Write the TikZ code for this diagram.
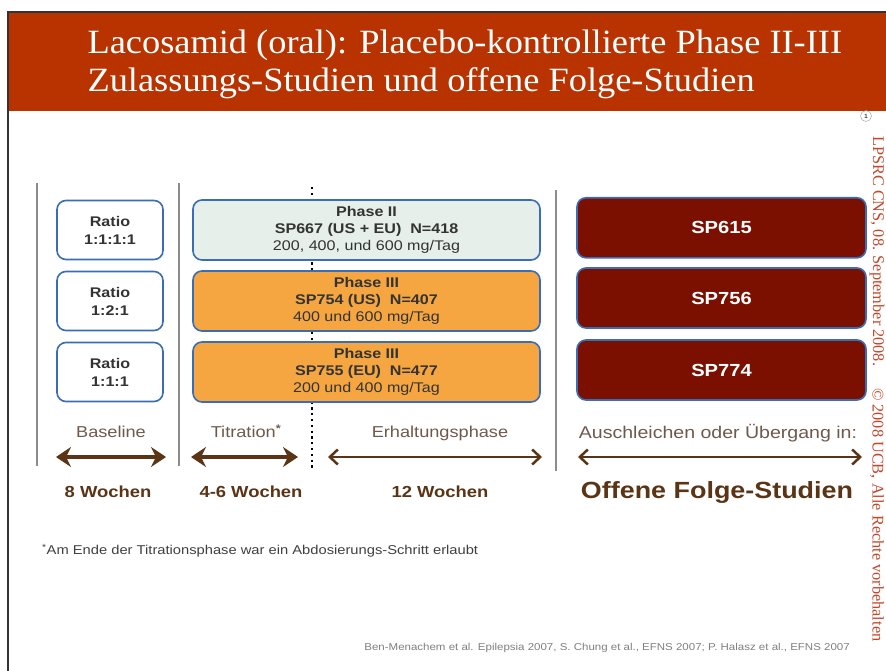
\documentclass[tikz,border=0pt]{standalone}
\usepackage{fontspec}
\setmainfont{Liberation Sans}[FakeStretch=1.15]
\newfontfamily\titlefont{Liberation Serif}[FakeStretch=1.07]
\newfontfamily\copyfont{Liberation Serif}
\usetikzlibrary{arrows.meta}
\definecolor{titlered}{HTML}{B83300}
\definecolor{boxblue}{HTML}{3A6DB5}
\definecolor{lightfill}{HTML}{E6EFEA}
\definecolor{orangefill}{HTML}{F5A640}
\definecolor{darkred}{HTML}{7C1000}
\definecolor{brown}{HTML}{5A3414}
\definecolor{labelgray}{HTML}{6E5A4C}
\definecolor{copyred}{HTML}{C8452A}
\begin{document}
\begin{tikzpicture}[x=1pt,y=-1pt,
  ratiobox/.style={draw=boxblue,line width=1.6pt,rounded corners=9pt,fill=white,minimum width=106pt,minimum height=59pt,align=center,font=\fontsize{14}{18}\selectfont\bfseries,text=black!80},
  phasebox/.style={draw=boxblue,line width=1.6pt,rounded corners=9pt,minimum width=347pt,minimum height=60pt,align=center,inner sep=0pt,font=\fontsize{14}{17}\selectfont,text=black!80},
  openbox/.style={draw=boxblue,line width=1.6pt,rounded corners=9pt,fill=darkred,minimum width=289pt,minimum height=60pt,text=white,font=\fontsize{17.5}{20}\selectfont\bfseries},
  seplbl/.style={font=\fontsize{15.8}{18}\selectfont,text=labelgray},
  wochen/.style={font=\fontsize{16}{18}\selectfont\bfseries,text=brown},
  sepline/.style={draw=black!45,line width=2pt},
  copytext/.style={rotate=-90,anchor=west,font=\copyfont\fontsize{16.3}{18}\selectfont,text=copyred,inner sep=0pt},
  thickarrow/.style={draw=brown,line width=3.2pt,{Stealth[width=20pt,length=15pt,inset=5pt]}-{Stealth[width=20pt,length=15pt,inset=5pt]}},
  thinarrow/.style={draw=brown,line width=2.5pt,{Straight Barb[width=15pt,length=8pt]}-{Straight Barb[width=15pt,length=8pt]}}
]
\useasboundingbox (0,0) rectangle (886,671);
\fill[white] (0,0) rectangle (886,671);
% frame and title bar
\fill[titlered] (8,12) rectangle (886,111);
\draw[black!80,line width=1.5pt] (8,671) -- (8,12) -- (886,12);
\node[anchor=west,text=white,font=\titlefont\fontsize{34}{38}\selectfont,align=left] (title) at (84,64)
  {Lacosamid (oral): Placebo-kontrollierte Phase II-III\\Zulassungs-Studien und offene Folge-Studien};
\node[circle,draw=black!40,fill=white,inner sep=0pt,minimum size=11pt,font=\fontsize{6}{6}\selectfont] (pg) at (866,116) {1};
% separators
\coordinate (s1a) at (37,183); \coordinate (s1b) at (37,466);
\coordinate (s2a) at (179,183); \coordinate (s2b) at (179,466);
\coordinate (s3a) at (556,190); \coordinate (s3b) at (556,471);
\draw[sepline] (s1a) -- (s1b);
\draw[sepline] (s2a) -- (s2b);
\draw[sepline] (s3a) -- (s3b);
\coordinate (dota) at (312,187); \coordinate (dotb) at (312,470);
\draw[black,line width=2.4pt,dash pattern=on 2.2pt off 3.6pt] (dota) -- (dotb);
% ratio boxes
\node[ratiobox] (r1) at (110,230) {Ratio\\1:1:1:1};
\node[ratiobox] (r2) at (110,301) {Ratio\\1:2:1};
\node[ratiobox] (r3) at (110,372) {Ratio\\1:1:1};
% phase boxes
\node[phasebox,fill=lightfill] (p1) at (366.5,230) {{\bfseries Phase II}\\{\bfseries SP667 (US + EU)\ \ N=418}\\200, 400, und 600 mg/Tag};
\node[phasebox,fill=orangefill] (p2) at (366.5,301) {{\bfseries Phase III}\\{\bfseries SP754 (US)\ \ N=407}\\400 und 600 mg/Tag};
\node[phasebox,fill=orangefill] (p3) at (366.5,372) {{\bfseries Phase III}\\{\bfseries SP755 (EU)\ \ N=477}\\200 und 400 mg/Tag};
% open label boxes
\node[openbox,anchor=north] (o1) at (721.5,197) {SP615};
\node[openbox] (o2) at (721.5,298) {SP756};
\node[openbox] (o3) at (721.5,370) {SP774};
% labels
\node[seplbl] (lb) at (111,432) {Baseline};
\node[seplbl] (lt) at (246,431) {Titration\textsuperscript{\bfseries *}};
\node[seplbl] (le) at (440,433) {Erhaltungsphase};
\node[seplbl,font=\fontsize{17}{19}\selectfont] (la) at (718,433) {Auschleichen oder Übergang in:};
% arrows
\coordinate (ab1) at (56,457); \coordinate (ab2) at (166,457);
\coordinate (at1) at (191,457); \coordinate (at2) at (298,457);
\coordinate (ae1) at (328,457); \coordinate (ae2) at (542,457);
\coordinate (aa1) at (578,457); \coordinate (aa2) at (862,457);
\draw[thickarrow] (ab1) -- (ab2);
\draw[thickarrow] (at1) -- (at2);
\draw[thinarrow] (ae1) -- (ae2);
\draw[thinarrow] (aa1) -- (aa2);
% durations
\node[wochen] (w1) at (108,492) {8 Wochen};
\node[wochen] (w2) at (251,492) {4-6 Wochen};
\node[wochen] (w3) at (440,492) {12 Wochen};
\node[font=\fontsize{23.4}{26}\selectfont\bfseries,text=brown] (w4) at (717,492) {Offene Folge-Studien};
% footnotes
\node[anchor=west,font=\fontsize{12.8}{15}\selectfont,text=black!75,inner sep=0pt] (fn) at (42,551) {\textsuperscript{*}Am Ende der Titrationsphase war ein Abdosierungs-Schritt erlaubt};
\node[anchor=east,font=\fontsize{10}{12}\selectfont,text=black!50,inner sep=0pt] (ref) at (850,648) {Ben-Menachem et al. Epilepsia 2007, S. Chung et al., EFNS 2007; P. Halasz et al., EFNS 2007};
% vertical copyright
\node[copytext] (cp1) at (877,136) {LPSRC CNS, 08. September 2008.};
\node[copytext] (cp2) at (877,388) {\textcopyright{} 2008 UCB, Alle Rechte vorbehalten};
\end{tikzpicture}
\end{document}
